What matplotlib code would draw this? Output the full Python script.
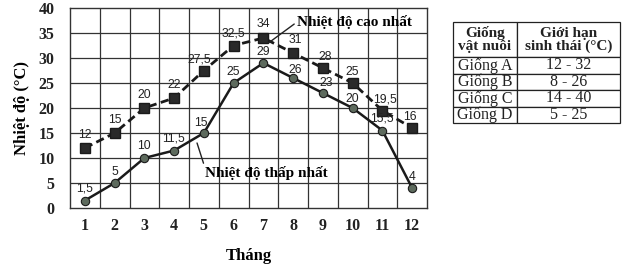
import numpy as np
import matplotlib
matplotlib.use('Agg')
import matplotlib.pyplot as plt

# data
months = np.arange(1, 13)
t_max = [12, 15, 20, 22, 27.5, 32.5, 34, 31, 28, 25, 19.5, 16]
t_min = [1.5, 5, 10, 11.5, 15, 25, 29, 26, 23, 20, 15.5, 4]
y_ticks = [0, 5, 10, 15, 20, 25, 30, 35, 40]

table_header = ['Giống\nvật nuôi', 'Giới hạn\nsinh thái (°C)']
breeds = ['Giống A', 'Giống B', 'Giống C', 'Giống D']
limits = ['12 - 32', '8 - 26', '14 - 40', '5 - 25']

# label offsets in pixels (dx, dy)
max_off = [(0, 13), (0, 13), (0, 13), (0, 13), (-5, 11), (0, 12),
           (0, 14), (2, 13), (2, 11), (0, 11), (3, 11), (-2, 11)]
min_off = [(0, 12), (0, 11), (0, 12), (-1, 12), (-3, 10), (0, 11),
           (0, 11), (2, 8), (3, 10), (0, 9), (0, 12), (0, 11)]

def fmt(v):
    s = ('%g' % v)
    return s.replace('.', ',')

serif = 'Liberation Serif'
sans = 'Liberation Sans'

fig = plt.figure(figsize=(6.36, 2.68), dpi=100)
ax = fig.add_axes([70/636, 1 - 208/268, 357/636, 200/268])

ax.plot(months, t_max, color='#1a1a1a', lw=2.0, ls=(0, (3, 1.6)),
        marker='s', ms=6.5, mfc='#2a2a2a', mec='#1a1a1a', zorder=3)
ax.plot(months, t_min, color='#1a1a1a', lw=1.8, ls='-',
        marker='o', ms=6, mfc='#5d6a5d', mec='#1a1a1a', mew=0.8, zorder=3)

for x, v, o in zip(months, t_max, max_off):
    ax.annotate(fmt(v), (x, v), xytext=o, textcoords='offset pixels',
                ha='center', va='center', fontsize=8.8, family=sans, color='#222222')
for x, v, o in zip(months, t_min, min_off):
    ax.annotate(fmt(v), (x, v), xytext=o, textcoords='offset pixels',
                ha='center', va='center', fontsize=8.8, family=sans, color='#222222')

ax.set_xlim(0.5, 12.5)
ax.set_ylim(0, 40)
ax.set_xticks(months)
ax.set_yticks(y_ticks)
ax.grid(False)
for gx in np.arange(1.5, 12.5, 1):
    ax.axvline(gx, color='#333333', lw=0.9, zorder=1)
for gy in y_ticks[1:-1]:
    ax.axhline(gy, color='#333333', lw=0.9, zorder=1)
for sp in ax.spines.values():
    sp.set_color('#333333')
    sp.set_linewidth(1.0)
ax.tick_params(which='both', length=0)
ax.tick_params(axis='x', pad=7)
ax.tick_params(axis='y', pad=11)
for lab in ax.get_xticklabels() + ax.get_yticklabels():
    lab.set_fontfamily(serif)
    lab.set_fontweight('bold')
    lab.set_fontsize(11.5)
    lab.set_color('#222222')

ax.set_ylabel('Nhiệt độ (°C)', family=serif, fontweight='bold', fontsize=12, labelpad=6)
ax.set_xlabel('Tháng', family=serif, fontweight='bold', fontsize=12, labelpad=10)

# series callouts
ax.annotate('Nhiệt độ cao nhất', xy=(7.17, 33.0), xytext=(8.13, 37.2),
            family=serif, fontweight='bold', fontsize=11, ha='left', va='center',
            arrowprops=dict(arrowstyle='-', color='#222222', lw=1.0,
                            shrinkA=0, shrinkB=0, relpos=(0, 0.5)))
ax.annotate('Nhiệt độ thấp nhất', xy=(4.77, 13.0), xytext=(5.04, 7.0),
            family=serif, fontweight='bold', fontsize=11, ha='left', va='center',
            arrowprops=dict(arrowstyle='-', color='#222222', lw=1.0,
                            shrinkA=0, shrinkB=0, relpos=(0, 0.85)))

# table
tax = fig.add_axes([453/636, 1 - 123/268, 167/636, 101/268])
tax.axis('off')
cells = [[b, l] for b, l in zip(breeds, limits)]
tbl = tax.table(cellText=[table_header] + cells, bbox=[0, 0, 1, 1],
                colWidths=[0.383, 0.617], cellLoc='center')
tbl.auto_set_font_size(False)
h_head = 0.347
h_row = (1 - h_head) / len(breeds)
for (r, c), cell in tbl.get_celld().items():
    cell.set_height(h_head if r == 0 else h_row)
    cell.set_edgecolor('#222222')
    cell.set_linewidth(0.9)
    cell.PAD = 0.02
    t = cell.get_text()
    t.set_fontfamily(serif)
    t.set_fontsize(11 if r == 0 else 11.5)
    t.set_color('#222222')
    t.set_linespacing(0.95)
    if r == 0:
        t.set_fontweight('bold')

fig.savefig('out.png', dpi=100)
